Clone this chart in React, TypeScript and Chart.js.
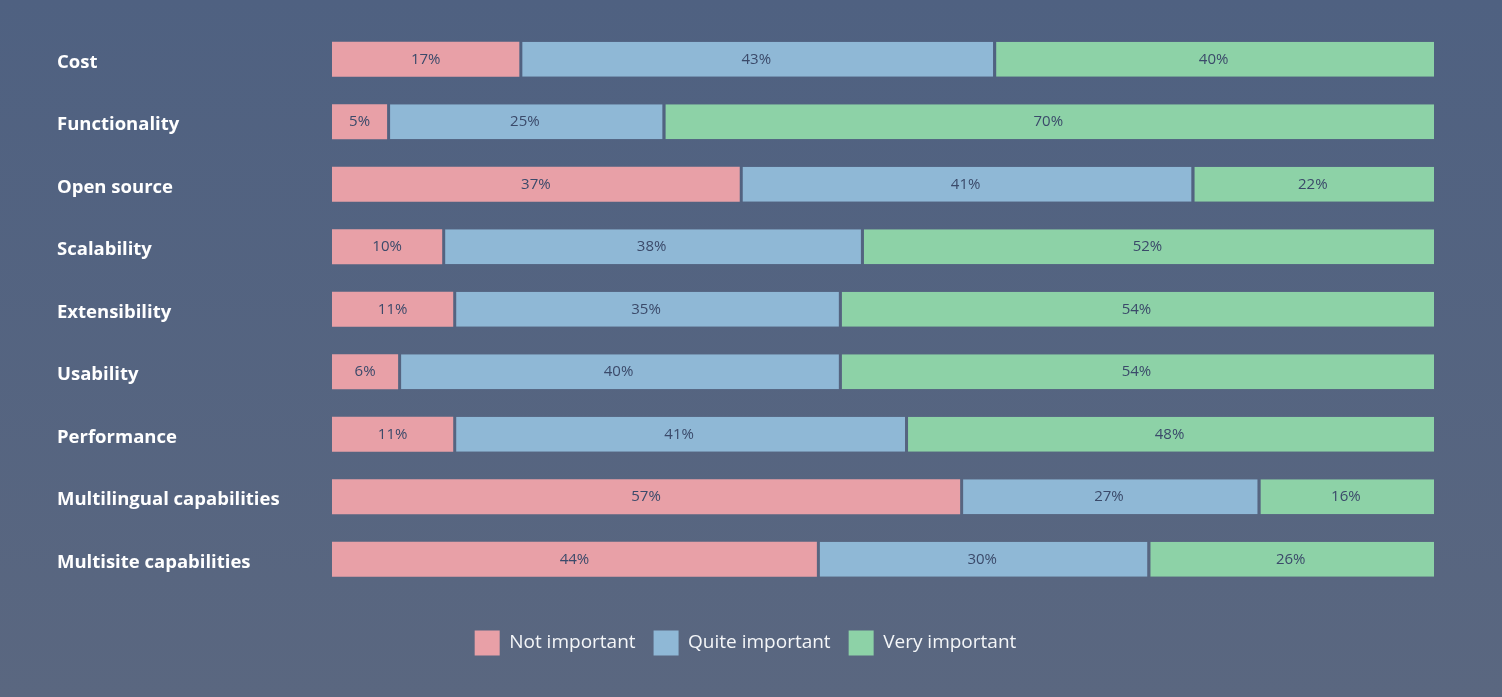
import React, { useEffect, useRef } from "react";
import { Chart, registerables } from "chart.js";

Chart.register(...registerables);

const categories = [
  "Cost",
  "Functionality",
  "Open source",
  "Scalability",
  "Extensibility",
  "Usability",
  "Performance",
  "Multilingual capabilities",
  "Multisite capabilities",
];
const notImportant = [17, 5, 37, 10, 11, 6, 11, 57, 44];
const quiteImportant = [43, 25, 41, 38, 35, 40, 41, 27, 30];
const veryImportant = [40, 70, 22, 52, 54, 54, 48, 16, 26];
const seriesNames = ["Not important", "Quite important", "Very important"];
const seriesColors = ["#e8a0a7", "#8fb8d6", "#8dd2a7"];

const FONT = "'Open Sans', Lato, sans-serif";

const barLabels = {
  id: "barLabels",
  afterDatasetsDraw(chart: any) {
    const ctx = chart.ctx;
    ctx.save();
    ctx.font = "15px " + FONT;
    ctx.fillStyle = "#3b4a6a";
    ctx.textAlign = "center";
    ctx.textBaseline = "middle";
    chart.data.datasets.forEach((ds: any, di: number) => {
      const meta = chart.getDatasetMeta(di);
      meta.data.forEach((bar: any, i: number) => {
        const v = ds.data[i];
        const cx = (bar.x + bar.base) / 2;
        ctx.fillText(v + "%", cx, bar.y);
      });
    });
    // category labels on the left
    const yScale = chart.scales.y;
    ctx.font = "bold 18.5px " + FONT;
    ctx.fillStyle = "#ffffff";
    ctx.textAlign = "left";
    chart.data.labels.forEach((lab: string, i: number) => {
      ctx.fillText(lab, yScale.left, yScale.getPixelForValue(i) + 3);
    });
    ctx.restore();
  },
};

export default function App() {
  const ref = useRef<HTMLCanvasElement>(null);
  useEffect(() => {
    document.body.style.margin = "0";
    const chart = new Chart(ref.current!, {
      type: "bar",
      data: {
        labels: categories,
        datasets: [notImportant, quiteImportant, veryImportant].map((d, k) => ({
          label: seriesNames[k],
          data: d,
          backgroundColor: seriesColors[k],
          borderColor: "rgba(0,0,0,0)",
          borderWidth: k === 0 ? 0 : { left: 3, right: 0, top: 0, bottom: 0 },
          borderSkipped: false,
          categoryPercentage: 0.56,
          barPercentage: 1,
        })),
      },
      options: {
        indexAxis: "y",
        responsive: false,
        animation: false,
        layout: { padding: { left: 57, right: 68, top: 28, bottom: 31.5 } },
        scales: {
          x: {
            stacked: true,
            min: 0,
            max: 100,
            display: true,
            grid: { display: false },
            border: { display: false },
            ticks: { display: false },
            afterFit: (s: any) => {
              s.height = 22;
            },
          },
          y: {
            stacked: true,
            display: true,
            grid: { display: false },
            border: { display: false },
            ticks: { display: false },
            afterFit: (s: any) => {
              s.width = 275;
            },
          },
        },
        plugins: {
          tooltip: { enabled: false },
          legend: {
            position: "bottom",
            labels: {
              boxWidth: 25,
              boxHeight: 25,
              padding: 18,
              color: "#f4f6f8",
              font: { family: FONT, size: 19 },
            },
          },
        },
      },
      plugins: [barLabels],
    } as any);
    return () => chart.destroy();
  }, []);
  return (
    <div
      style={{
        width: 1502,
        height: 697,
        background: "linear-gradient(to bottom, #4f6181, #5a6780)",
      }}
    >
      <canvas ref={ref} width={1502} height={697} />
    </div>
  );
}
